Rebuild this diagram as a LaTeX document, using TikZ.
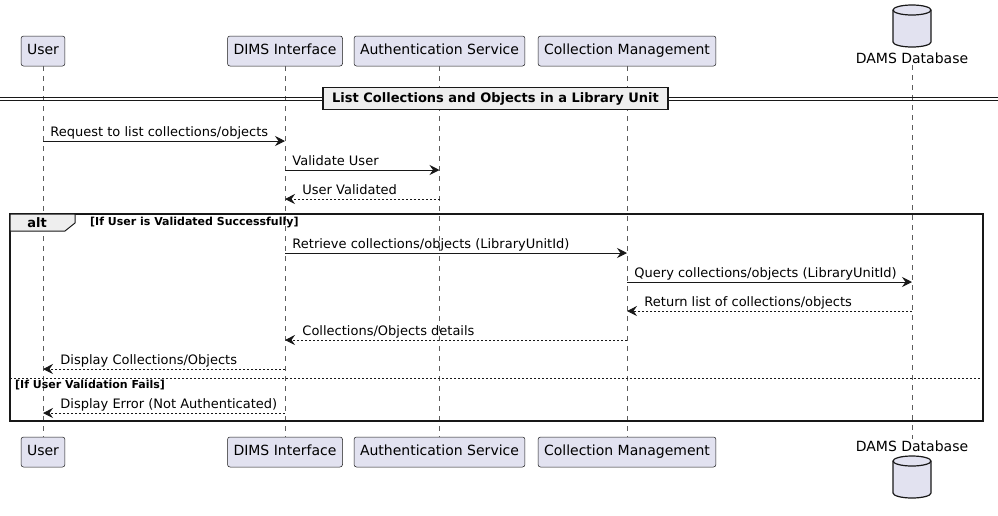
\documentclass[tikz,border=0pt]{standalone}
\usepackage{fontspec}
\setmainfont{DejaVu Sans}
\usetikzlibrary{arrows.meta}
\definecolor{partfill}{HTML}{E2E2F0}
\definecolor{partline}{HTML}{181818}
\definecolor{grpfill}{HTML}{EEEEEE}

\tikzset{
  dbicon/.pic={
    \draw[draw=partline, fill=partfill, line width=1.2pt] (-19,-16) -- (-19,16)
      arc[start angle=180, end angle=360, x radius=19pt, y radius=5pt] -- (19,-16)
      arc[start angle=0, end angle=180, x radius=19pt, y radius=5pt] -- cycle;
    \draw[draw=partline, line width=1.2pt] (-19,-16) arc[start angle=180, end angle=360, x radius=19pt, y radius=5pt];
  }
}

\begin{document}
\begin{tikzpicture}[x=1pt, y=-1pt,
    part/.style={draw=partline, fill=partfill, line width=0.5pt, rounded corners=2.5pt, minimum height=30pt, inner xsep=6pt, text height=10pt, text depth=3pt, font=\fontsize{14}{16}\selectfont},
    dblabel/.style={inner sep=0pt, minimum height=14pt, font=\fontsize{14}{16}\selectfont},
    life/.style={draw=partline!70, line width=0.5pt, dash pattern=on 5pt off 5pt},
    msg/.style={draw=partline, line width=0.9pt, -{Stealth[length=10pt, width=10pt, inset=3.5pt]}},
    reply/.style={msg, dash pattern=on 2pt off 2pt},
    lbl/.style={anchor=base west, inner sep=0pt, yshift=5pt, font=\fontsize{13}{15}\selectfont},
    lblR/.style={lbl, at start, xshift=7pt},
    lblL/.style={lbl, at end, xshift=17pt},
    guard/.style={anchor=west, inner sep=0pt, font=\fontsize{11}{13}\selectfont\bfseries},
    grp/.style={draw=partline, line width=1.5pt}
  ]
  \useasboundingbox (0,0) rectangle (998,515);

  % participants
  \node[part] (user) at (43,51) {User};
  \node[part] (dims) at (285,51) {DIMS Interface};
  \node[part] (auth) at (439.5,51) {Authentication Service};
  \node[part] (coll) at (627,51) {Collection Management};
  \pic (db) at (912,26) {dbicon};
  \node[dblabel] (dbl) at (912,58) {DAMS Database};

  \node[part] (user2) at (43,452) {User};
  \node[part] (dims2) at (285,452) {DIMS Interface};
  \node[part] (auth2) at (439.5,452) {Authentication Service};
  \node[part] (coll2) at (627,452) {Collection Management};
  \node[dblabel] (dbl2) at (912,446) {DAMS Database};
  \pic (db2) at (912,477) {dbicon};

  % lifelines
  \draw[life] (user) -- (user2);
  \draw[life] (dims) -- (dims2);
  \draw[life] (auth) -- (auth2);
  \draw[life] (coll) -- (coll2);
  \draw[life] (dbl) -- (dbl2);

  % divider
  \draw[draw=partline, line width=1pt] (0,97) -- (998,97) (0,100) -- (998,100);
  \node[grp, fill=grpfill, minimum height=22pt, inner xsep=9pt, font=\fontsize{13}{15}\selectfont\bfseries] (title) at (495.5,98.5) {List Collections and Objects in a Library Unit};

  \draw[msg] (user |- 0,141) -- (dims |- 0,141) node[lblR] {Request to list collections/objects};
  \draw[msg] (dims |- 0,170) -- (auth |- 0,170) node[lblR] {Validate User};
  \draw[reply] (auth |- 0,199) -- (dims |- 0,199) node[lblL] {User Validated};

  % alt
  \draw[grp] (10,214) rectangle (983,421);
  \draw[draw=partline, line width=1pt, fill=grpfill] (10,214) -- (75,214) -- (75,223) -- (65,231) -- (10,231) -- cycle;
  \node[font=\fontsize{13}{15}\selectfont\bfseries, inner sep=0pt] (alt) at (37,222.5) {alt};
  \node[guard] (g1) at (90,222.5) {[If User is Validated Successfully]};

  \draw[msg] (dims |- 0,253) -- (coll |- 0,253) node[lblR] {Retrieve collections/objects (LibraryUnitId)};
  \draw[msg] (coll |- 0,282) -- (dbl |- 0,282) node[lblR] {Query collections/objects (LibraryUnitId)};
  \draw[reply] (dbl |- 0,311) -- (coll |- 0,311) node[lblL] {Return list of collections/objects};
  \draw[reply] (coll |- 0,340) -- (dims |- 0,340) node[lblL] {Collections/Objects details};
  \draw[reply] (dims |- 0,369) -- (user |- 0,369) node[lblL] {Display Collections/Objects};

  \draw[draw=partline, line width=0.6pt, dash pattern=on 2pt off 2pt] (10,378) -- (983,378);
  \node[guard] (g2) at (15,385) {[If User Validation Fails]};

  \draw[reply] (dims |- 0,413) -- (user |- 0,413) node[lblL] {Display Error (Not Authenticated)};
\end{tikzpicture}
\end{document}
